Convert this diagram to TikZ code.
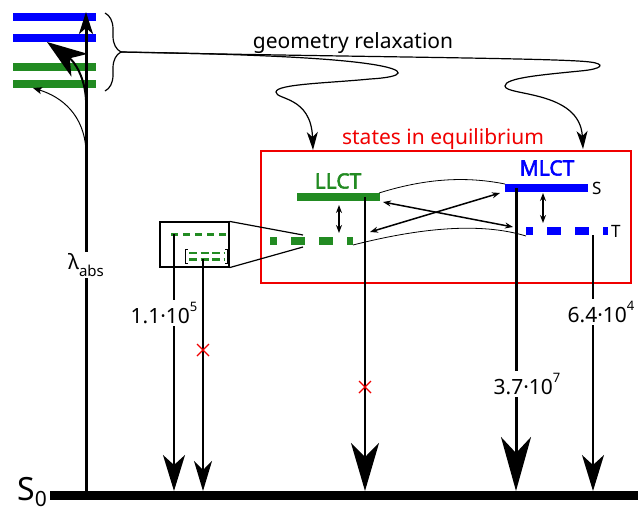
\documentclass[tikz,border=0pt]{standalone}
\usepackage{fontspec}
\setmainfont{Noto Sans}
\newfontfamily\lctfont{Noto Sans}[FakeBold=2.5]
\usetikzlibrary{arrows.meta,decorations.pathreplacing}
\definecolor{llctgreen}{RGB}{34,139,34}
\definecolor{mlctblue}{RGB}{0,0,255}
\definecolor{eqred}{RGB}{240,0,0}
\newcommand{\upidx}[1]{\raisebox{0.55em}{\fontsize{13}{13}\selectfont #1}}
\newcommand{\lowidx}[1]{\raisebox{-0.3em}{\fontsize{15}{15}\selectfont #1}}

\begin{document}
\begin{tikzpicture}[x=1pt,y=-1pt,
		lvl/.style={line width=8pt},
		txt/.style={font=\fontsize{21}{25}\selectfont, inner sep=2pt},
		bold/.style={font=\fontsize{21}{25}\selectfont\lctfont, inner sep=2pt},
		dbl/.style={line width=1.5pt, {Stealth[length=8pt,width=6pt]}-{Stealth[length=8pt,width=6pt]}},
		cross/.style={eqred, line width=1.3pt},
		bighead/.style={-{Stealth[length=48pt,width=28pt,inset=14pt]}},
		hugehead/.style={-{Stealth[length=54pt,width=30pt,inset=16pt]}},
		medhead/.style={-{Stealth[length=36pt,width=22pt,inset=10pt]}},
		smallhead/.style={-{Stealth[length=30pt,width=18pt,inset=9pt]}}]
		\useasboundingbox (0,0) rectangle (638,515);

		% ground state
		\coordinate (s0l) at (50,495.5);
		\coordinate (s0r) at (638,495.5);
		\draw[line width=9pt] (s0l) -- (s0r);
		\node[font=\fontsize{32}{36}\selectfont, anchor=east, inner sep=1pt] (s0lab) at (48,492) {S\raisebox{-0.2em}{\fontsize{21}{21}\selectfont 0}};

		% Franck-Condon states
		\foreach \y/\c in {17/mlctblue,38/mlctblue,67/llctgreen,84/llctgreen}
			\draw[lvl,\c] (13,\y) -- (96,\y);

		% absorption
		\coordinate (absbot) at (86,491);
		\coordinate (abstop) at (86,12);
		\draw[line width=3pt, -{Stealth[length=22pt,width=14pt,inset=6pt]}] (absbot) -- (abstop);
		\node[txt, fill=white] (lam) at (86,265) {λ\lowidx{abs}};

		% fast relaxation
		\draw[line width=2pt, -{Stealth[length=40pt,width=28pt,inset=12pt]}] (86,100) .. controls (85,78) and (75,62) .. (47,42);
		\draw[line width=1pt, -{Stealth[length=9pt,width=7pt,inset=2pt]}] (86,150) .. controls (84,115) and (62,97) .. (33,88);

		% brace and geometry relaxation
		\draw[line width=1.2pt, decorate, decoration={brace, amplitude=16pt}] (105,13) -- (105,91);
		\coordinate (brtip) at (121,52);
		\node[txt] (georel) at (353,43) {geometry relaxation};
		\draw[line width=1.2pt, -{Stealth[length=18pt,width=11pt,inset=5pt]}] (brtip)
			.. controls (250,54) and (330,58) .. (370,64)
			.. controls (410,70) and (405,77) .. (370,79)
			.. controls (330,83) and (276,84) .. (276,92)
			.. controls (276,100) and (311,96) .. (313,150);
		\draw[line width=1.2pt, -{Stealth[length=18pt,width=11pt,inset=5pt]}] (brtip)
			.. controls (350,57) and (560,58) .. (590,62)
			.. controls (606,64) and (603,69) .. (580,71)
			.. controls (540,75) and (505,78) .. (505,86)
			.. controls (505,96) and (580,90) .. (583,149);

		% states in equilibrium
		\draw[eqred, line width=2.5pt] (261,151) rectangle (631,283);
		\node[txt, eqred] (eqlab) at (443,139) {states in equilibrium};

		% LLCT singlet and triplet
		\coordinate (llS1) at (297,197);
		\coordinate (llS2) at (380,197);
		\coordinate (llT1) at (270,241);
		\coordinate (llT2) at (353,241);
		\draw[lvl, llctgreen] (llS1) -- (llS2);
		\draw[lvl, llctgreen, dash pattern=on 14pt off 14pt, dash phase=7pt] (llT1) -- (llT2);
		\node[bold, llctgreen] (llct) at (338,181) {LLCT};

		% MLCT singlet and triplet
		\coordinate (mlS1) at (505,188);
		\coordinate (mlS2) at (588,188);
		\coordinate (mlT1) at (526,231);
		\coordinate (mlT2) at (608,231);
		\draw[lvl, mlctblue] (mlS1) -- (mlS2);
		\draw[lvl, mlctblue, dash pattern=on 14pt off 14pt, dash phase=7pt] (mlT1) -- (mlT2);
		\node[bold, mlctblue] (mlct) at (547,168) {MLCT};
		\node[font=\fontsize{17}{19}\selectfont, anchor=west, inner sep=1pt] (slab) at (591,188) {S};
		\node[font=\fontsize{17}{19}\selectfont, anchor=west, inner sep=1pt] (tlab) at (610,231) {T};

		% interconversion
		\draw[dbl] (339,205) -- (339,233);
		\draw[dbl] (543,193) -- (543,223);
		\draw[dbl] (383,202) -- (513,227);
		\draw[dbl] (370,232) -- (500,193);
		\draw[line width=0.8pt] (379,193) .. controls (430,177) and (470,177) .. (505,184);
		\draw[line width=0.8pt] (353,245) .. controls (420,228) and (480,222) .. (526,236);

		% zoom of LLCT triplet
		\node[draw, line width=1.2pt, minimum width=69pt, minimum height=45pt, inner sep=0pt] (zoombox) at (194.5,244.5) {};
		\draw[line width=1.2pt] (zoombox.north east) -- (303,235);
		\draw[line width=1.2pt] (zoombox.south east) -- (303,247);
		\draw[llctgreen, line width=3pt, dash pattern=on 7pt off 5pt] (171,234) -- (226,234);
		\draw[llctgreen, line width=2.5pt, dash pattern=on 8pt off 3.5pt] (189,253) -- (224,253);
		\draw[llctgreen, line width=2.5pt, dash pattern=on 8pt off 3.5pt] (189,259.5) -- (224,259.5);
		\draw[line width=0.8pt] (187.5,249) -- (185.5,249) -- (185.5,263) -- (187.5,263);
		\draw[line width=0.8pt] (225,249) -- (227,249) -- (227,263) -- (225,263);

		% decay channels
		\draw[line width=2pt, medhead] (174,234) -- (174,491);
		\draw[line width=1.5pt, smallhead] (203,259) -- (203,491);
		\draw[line width=2pt, bighead] (365,197) -- (365,491);
		\draw[line width=3pt, hugehead] (516,188) -- (516,491);
		\draw[line width=1.5pt, medhead] (593,235) -- (593,491);
		\draw[cross] (203,350) +(-6,-6) -- +(6,6) +(-6,6) -- +(6,-6);
		\draw[cross] (365,387) +(-6,-6) -- +(6,6) +(-6,6) -- +(6,-6);
		\node[txt, fill=white] (k1) at (164,313) {1.1·10\upidx{5}};
		\node[txt, fill=white] (k2) at (527,384) {3.7·10\upidx{7}};
		\node[txt, fill=white] (k3) at (601,312) {6.4·10\upidx{4}};
	\end{tikzpicture}
\end{document}
